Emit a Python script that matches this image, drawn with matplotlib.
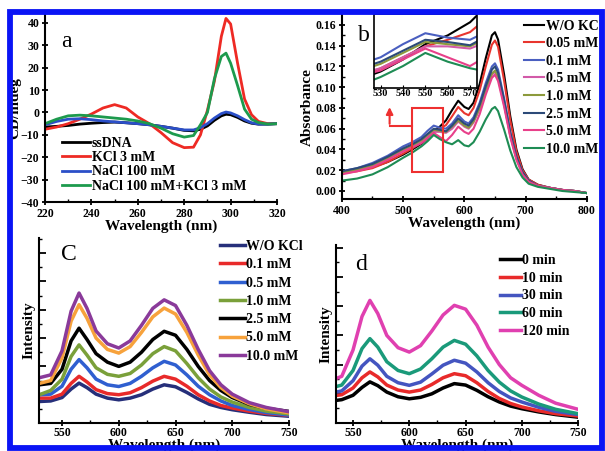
import matplotlib
matplotlib.use("Agg")
import matplotlib.pyplot as plt
from matplotlib.patches import Rectangle
from matplotlib.ticker import MultipleLocator, NullFormatter

plt.rcParams['font.family'] = ['Liberation Serif', 'DejaVu Serif']
plt.rcParams['font.weight'] = 'bold'
plt.rcParams['axes.labelweight'] = 'bold'

# ---- panel a: CD spectra ----
wl_a = [220, 225, 230, 235, 240, 245, 250, 255, 260, 265, 270, 275, 280, 284,
        287, 290, 293, 296, 298, 300, 303, 306, 309, 312, 316, 320]
cd_ssdna = [-6.5, -6.2, -5.8, -5.2, -4.8, -4.5, -4.3, -4.6, -5.0, -5.5, -6.2, -7.0, -8.0, -8.2,
            -7.5, -6.0, -3.5, -1.5, -0.8, -1.0, -2.2, -3.8, -4.8, -5.2, -5.2, -5.0]
cd_kcl = [-7.5, -6.5, -5.0, -3.0, -0.7, 2.0, 3.5, 2.0, -2.0, -5.0, -9.0, -13.5, -15.7, -15.5,
          -10.0, 1.0, 14.0, 34.0, 42.0, 39.5, 22.0, 6.0, -1.0, -4.0, -5.0, -5.0]
cd_nacl = [-5.5, -4.0, -3.0, -2.8, -3.2, -3.8, -4.2, -4.6, -5.0, -5.5, -6.2, -7.0, -7.8, -7.8,
           -6.8, -5.0, -2.5, -0.5, 0.2, -0.2, -1.5, -3.2, -4.6, -5.2, -5.2, -5.0]
cd_mix = [-5.0, -3.0, -1.5, -1.2, -1.5, -2.0, -2.5, -3.0, -3.8, -5.0, -7.0, -9.5, -11.0, -10.3,
          -5.5, 0.0, 15.0, 25.0, 26.5, 22.0, 12.0, 1.5, -3.0, -4.5, -5.2, -5.0]
labels_a = ['ssDNA', 'KCl 3 mM', 'NaCl 100 mM', 'NaCl 100 mM+KCl 3 mM']
colors_a = ['black', '#ee2a24', '#2b4fc8', '#1d9a4d']

# ---- panel b: absorbance ----
wl_b = [400, 425, 450, 475, 500, 515, 530, 540, 550, 560, 570, 580, 590, 600, 607, 615,
        625, 635, 645, 650, 655, 665, 675, 685, 695, 705, 720, 740, 760, 780, 800]
abs_0 = [0.018, 0.020, 0.023, 0.028, 0.035, 0.040, 0.0455, 0.051, 0.058, 0.062, 0.068, 0.078, 0.087, 0.081, 0.079, 0.085,
         0.103, 0.128, 0.150, 0.153, 0.146, 0.112, 0.072, 0.040, 0.021, 0.011, 0.006, 0.003, 0.001, 0.000, -0.002]
abs_005 = [0.017, 0.019, 0.022, 0.028, 0.036, 0.041, 0.047, 0.052, 0.057, 0.060, 0.0635, 0.072, 0.081, 0.075, 0.073, 0.080,
           0.097, 0.120, 0.141, 0.145, 0.139, 0.106, 0.068, 0.038, 0.020, 0.011, 0.006, 0.003, 0.001, 0.000, -0.002]
abs_01 = [0.019, 0.022, 0.027, 0.034, 0.043, 0.047, 0.052, 0.058, 0.063, 0.061, 0.060, 0.065, 0.073, 0.067, 0.065, 0.071,
          0.085, 0.104, 0.120, 0.123, 0.117, 0.089, 0.057, 0.033, 0.018, 0.010, 0.005, 0.003, 0.001, 0.000, -0.002]
abs_05 = [0.017, 0.020, 0.024, 0.031, 0.039, 0.043, 0.047, 0.052, 0.057, 0.057, 0.056, 0.060, 0.067, 0.062, 0.060, 0.066,
          0.079, 0.097, 0.112, 0.115, 0.109, 0.083, 0.053, 0.031, 0.017, 0.009, 0.005, 0.003, 0.001, 0.000, -0.002]
abs_10 = [0.018, 0.021, 0.025, 0.032, 0.040, 0.044, 0.049, 0.054, 0.059, 0.058, 0.057, 0.062, 0.068, 0.063, 0.061, 0.067,
          0.080, 0.098, 0.113, 0.116, 0.110, 0.084, 0.054, 0.032, 0.017, 0.009, 0.005, 0.003, 0.001, 0.000, -0.002]
abs_25 = [0.019, 0.022, 0.026, 0.033, 0.041, 0.045, 0.050, 0.055, 0.060, 0.059, 0.0575, 0.063, 0.070, 0.065, 0.063, 0.069,
          0.083, 0.101, 0.117, 0.120, 0.114, 0.087, 0.056, 0.033, 0.018, 0.010, 0.005, 0.003, 0.001, 0.000, -0.002]
abs_50 = [0.016, 0.019, 0.023, 0.030, 0.038, 0.042, 0.046, 0.051, 0.056, 0.052, 0.048, 0.054, 0.062, 0.057, 0.055, 0.060,
          0.074, 0.093, 0.109, 0.112, 0.106, 0.081, 0.052, 0.030, 0.016, 0.009, 0.005, 0.003, 0.001, 0.000, -0.002]
abs_100 = [0.010, 0.012, 0.016, 0.023, 0.032, 0.037, 0.043, 0.048, 0.054, 0.050, 0.047, 0.045, 0.049, 0.044, 0.043, 0.047,
           0.057, 0.069, 0.079, 0.081, 0.077, 0.059, 0.039, 0.023, 0.013, 0.007, 0.004, 0.002, 0.000, -0.001, -0.002]
labels_b = ['W/O KCl', '0.05 mM', '0.1 mM', '0.5 mM', '1.0 mM', '2.5 mM', '5.0 mM', '10.0 mM']
colors_b = ['black', '#e8352e', '#4a5fc0', '#d25aa8', '#8c9a3c', '#2c4a78', '#e8408a', '#1e8c54']
box_x, box_y, box_w, box_h = 515, 0.018, 50, 0.062

# ---- panel c: fluorescence vs KCl ----
wl_f = [530, 540, 550, 558, 565, 572, 580, 590, 600, 610, 620, 630, 640, 650, 660,
        670, 680, 690, 700, 715, 730, 750]
fc_0 = [0.76, 0.78, 0.90, 1.20, 1.41, 1.25, 1.02, 0.88, 0.82, 0.88, 1.00, 1.20, 1.35, 1.28, 1.08,
        0.85, 0.66, 0.55, 0.47, 0.38, 0.30, 0.24]
fc_01 = [0.88, 0.88, 1.02, 1.40, 1.65, 1.45, 1.18, 1.04, 1.00, 1.07, 1.25, 1.48, 1.65, 1.55, 1.30,
         1.00, 0.78, 0.62, 0.53, 0.42, 0.34, 0.27]
fc_05 = [1.00, 1.02, 1.30, 1.90, 2.24, 1.95, 1.55, 1.35, 1.29, 1.40, 1.65, 1.95, 2.18, 2.05, 1.70,
         1.30, 1.00, 0.78, 0.62, 0.48, 0.37, 0.28]
fc_10 = [1.00, 1.15, 1.55, 2.35, 2.76, 2.40, 1.95, 1.72, 1.65, 1.75, 2.05, 2.45, 2.70, 2.55, 2.10,
         1.60, 1.20, 0.92, 0.74, 0.55, 0.42, 0.32]
fc_25 = [1.35, 1.40, 1.90, 2.90, 3.35, 2.95, 2.45, 2.15, 2.00, 2.15, 2.50, 2.95, 3.24, 3.10, 2.60,
         2.00, 1.50, 1.15, 0.90, 0.66, 0.52, 0.41]
fc_50 = [1.40, 1.50, 2.30, 3.60, 4.18, 3.70, 3.00, 2.60, 2.47, 2.70, 3.20, 3.75, 4.06, 3.85, 3.20,
         2.40, 1.70, 1.25, 0.95, 0.68, 0.50, 0.36]
fc_100 = [1.60, 1.70, 2.55, 3.95, 4.59, 4.05, 3.25, 2.80, 2.65, 2.90, 3.45, 4.05, 4.35, 4.15, 3.45,
          2.60, 1.85, 1.35, 1.02, 0.72, 0.55, 0.40]
labels_c = ['W/O KCl', '0.1 mM', '0.5 mM', '1.0 mM', '2.5 mM', '5.0 mM', '10.0 mM']
colors_c = ['#262f7a', '#e82a2a', '#2f5fd0', '#7aa03a', 'black', '#f7a23c', '#8a3a9a']

# ---- panel d: fluorescence vs time ----
fd_0 = [0.75, 0.80, 0.95, 1.22, 1.41, 1.28, 1.06, 0.90, 0.83, 0.88, 1.00, 1.20, 1.35, 1.30, 1.12,
        0.90, 0.72, 0.58, 0.49, 0.38, 0.29, 0.20]
fd_10 = [0.92, 0.97, 1.20, 1.55, 1.75, 1.58, 1.30, 1.13, 1.06, 1.13, 1.32, 1.55, 1.69, 1.62, 1.38,
         1.08, 0.84, 0.67, 0.55, 0.42, 0.32, 0.24]
fd_30 = [1.02, 1.10, 1.45, 1.95, 2.20, 1.98, 1.60, 1.38, 1.29, 1.40, 1.68, 1.98, 2.15, 2.05, 1.75,
         1.38, 1.08, 0.86, 0.72, 0.54, 0.40, 0.29]
fd_60 = [1.20, 1.30, 1.80, 2.55, 2.89, 2.60, 2.10, 1.80, 1.69, 1.85, 2.20, 2.60, 2.83, 2.70, 2.30,
         1.80, 1.40, 1.10, 0.89, 0.65, 0.47, 0.32]
fd_120 = [1.45, 1.60, 2.50, 3.65, 4.20, 3.75, 3.00, 2.58, 2.43, 2.65, 3.15, 3.70, 4.03, 3.90, 3.35,
          2.60, 2.00, 1.55, 1.29, 0.95, 0.68, 0.47]
labels_d = ['0 min', '10 min', '30 min', '60 min', '120 min']
colors_d = ['black', '#e82a2a', '#4455c0', '#1a9a7a', '#e040b0']


def style_axes(ax, tick_size=8.5):
    for side in ('top', 'right'):
        ax.spines[side].set_visible(False)
    for side in ('left', 'bottom'):
        ax.spines[side].set_linewidth(1.5)
    ax.tick_params(which='major', direction='inout', length=5, width=1.3, labelsize=tick_size, pad=1.5)
    ax.tick_params(which='minor', direction='in', length=2.5, width=1.0)


fig = plt.figure(figsize=(6.05, 4.51), dpi=100)

# panel a
ax_a = fig.add_axes([0.0744, 0.552, 0.3835, 0.4146])
for ys, lab, col in zip([cd_ssdna, cd_kcl, cd_nacl, cd_mix], labels_a, colors_a):
    ax_a.plot(wl_a, ys, color=col, lw=2.0, label=lab)
ax_a.set_xlim(220, 320)
ax_a.set_ylim(-40, 43.5)
ax_a.xaxis.set_major_locator(MultipleLocator(20))
ax_a.xaxis.set_minor_locator(MultipleLocator(10))
ax_a.yaxis.set_major_locator(MultipleLocator(10))
style_axes(ax_a)
ax_a.set_xlabel('Wavelength (nm)', fontsize=11, labelpad=0)
ax_a.set_ylabel('CD/mdeg', fontsize=11, labelpad=0)
ax_a.text(0.07, 0.83, 'a', transform=ax_a.transAxes, fontsize=17, fontweight='normal')
ax_a.legend(loc='lower left', bbox_to_anchor=(0.05, 0.02), frameon=False, fontsize=10,
            handlelength=2.0, handletextpad=0.15, labelspacing=0.1, borderaxespad=0)

# panel b
ax_b = fig.add_axes([0.565, 0.5588, 0.405, 0.408])
series_b = [abs_0, abs_005, abs_01, abs_05, abs_10, abs_25, abs_50, abs_100]
for ys, lab, col in zip(series_b, labels_b, colors_b):
    ax_b.plot(wl_b, ys, color=col, lw=1.5, label=lab)
ax_b.set_xlim(400, 800)
ax_b.set_ylim(-0.0077, 0.1696)
ax_b.xaxis.set_major_locator(MultipleLocator(100))
ax_b.xaxis.set_minor_locator(MultipleLocator(50))
ax_b.yaxis.set_major_locator(MultipleLocator(0.02))
ax_b.yaxis.set_minor_locator(MultipleLocator(0.01))
ax_b.yaxis.set_major_formatter(plt.FormatStrFormatter('%.2f'))
style_axes(ax_b)
ax_b.set_xlabel('Wavelength (nm)', fontsize=11, labelpad=0)
ax_b.set_ylabel('Absorbance', fontsize=11, labelpad=1)
ax_b.text(0.065, 0.86, 'b', transform=ax_b.transAxes, fontsize=17, fontweight='normal')
ax_b.add_patch(Rectangle((box_x, box_y), box_w, box_h, fill=False, edgecolor='#ee3030', lw=1.5, zorder=5))
ax_b.plot([box_x, 478], [0.0627, 0.0627], color='#ee3030', lw=1.5, zorder=5)
ax_b.annotate('', xy=(478, 0.0835), xytext=(478, 0.0620),
              arrowprops=dict(arrowstyle='-|>', color='#ee3030', lw=1.5, mutation_scale=10), zorder=5)
ax_b.legend(loc='upper left', bbox_to_anchor=(0.72, 1.005), frameon=False, fontsize=10,
            handlelength=1.45, handletextpad=0.12, labelspacing=0.33, borderaxespad=0)

# inset of b
ax_in = fig.add_axes([0.618, 0.805, 0.170, 0.165])
for ys, col in zip(series_b, colors_b):
    ax_in.plot(wl_b, ys, color=col, lw=1.5)
ax_in.set_xlim(527, 573)
ax_in.set_ylim(0.038, 0.072)
ax_in.xaxis.set_major_locator(MultipleLocator(10))
ax_in.set_yticks([])
for sp in ax_in.spines.values():
    sp.set_linewidth(1.2)
ax_in.tick_params(axis='x', direction='in', length=2.5, labelsize=7.5, pad=1)

# panel c
ax_c = fig.add_axes([0.065, 0.062, 0.4127, 0.410])
series_c = [fc_0, fc_01, fc_05, fc_10, fc_25, fc_50, fc_100]
for ys, lab, col in zip(series_c, labels_c, colors_c):
    ax_c.plot(wl_f, ys, color=col, lw=2.5, label=lab)
ax_c.set_xlim(530, 750)
ax_c.set_ylim(0, 6.53)
ax_c.xaxis.set_major_locator(MultipleLocator(50))
ax_c.xaxis.set_minor_locator(MultipleLocator(25))
ax_c.yaxis.set_major_locator(MultipleLocator(1))
ax_c.yaxis.set_minor_locator(MultipleLocator(0.5))
ax_c.yaxis.set_major_formatter(NullFormatter())
style_axes(ax_c)
ax_c.tick_params(axis='y', which='major', direction='in')
ax_c.tick_params(axis='x', which='major', pad=0.5)
ax_c.set_xlabel('Wavelength (nm)', fontsize=11, labelpad=-0.5)
ax_c.set_ylabel('Intensity', fontsize=11, labelpad=-1)
ax_c.text(0.085, 0.88, 'C', transform=ax_c.transAxes, fontsize=17, fontweight='normal')
ax_c.legend(loc='upper left', bbox_to_anchor=(0.70, 1.02), frameon=False, fontsize=10,
            handlelength=1.8, handletextpad=0.12, labelspacing=0.38, borderaxespad=0)

# panel d
ax_d = fig.add_axes([0.5556, 0.062, 0.400, 0.395])
series_d = [fd_0, fd_10, fd_30, fd_60, fd_120]
for ys, lab, col in zip(series_d, labels_d, colors_d):
    ax_d.plot(wl_f, ys, color=col, lw=2.5, label=lab)
ax_d.set_xlim(535, 750)
ax_d.set_ylim(0, 6.1)
ax_d.xaxis.set_major_locator(MultipleLocator(50))
ax_d.xaxis.set_minor_locator(MultipleLocator(25))
ax_d.yaxis.set_major_locator(MultipleLocator(1))
ax_d.yaxis.set_minor_locator(MultipleLocator(0.5))
ax_d.yaxis.set_major_formatter(NullFormatter())
style_axes(ax_d)
ax_d.tick_params(axis='y', which='major', direction='in')
ax_d.tick_params(axis='x', which='major', pad=0.5)
ax_d.set_xlabel('Wavelength (nm)', fontsize=11, labelpad=-0.5)
ax_d.set_ylabel('Intensity', fontsize=11, labelpad=-1)
ax_d.text(0.08, 0.86, 'd', transform=ax_d.transAxes, fontsize=17, fontweight='normal')
ax_d.legend(loc='upper left', bbox_to_anchor=(0.655, 0.98), frameon=False, fontsize=10,
            handlelength=1.5, handletextpad=0.05, labelspacing=0.34, borderaxespad=0)

# blue frame round the whole figure, white outside it
W, H = 605.0, 451.0
for (x0, y0, w, h) in [(0, 0, 7, H), (0, 442, W, 9)]:
    fig.add_artist(Rectangle((x0 / W, y0 / H), w / W, h / H, transform=fig.transFigure,
                             facecolor='white', edgecolor='none', zorder=20))
fig.add_artist(Rectangle((10 / W, 3 / H), 592 / W, 436.5 / H, transform=fig.transFigure,
                         fill=False, edgecolor='#0a14f5', lw=4.2, zorder=21))

fig.savefig('out.png', dpi=100)
